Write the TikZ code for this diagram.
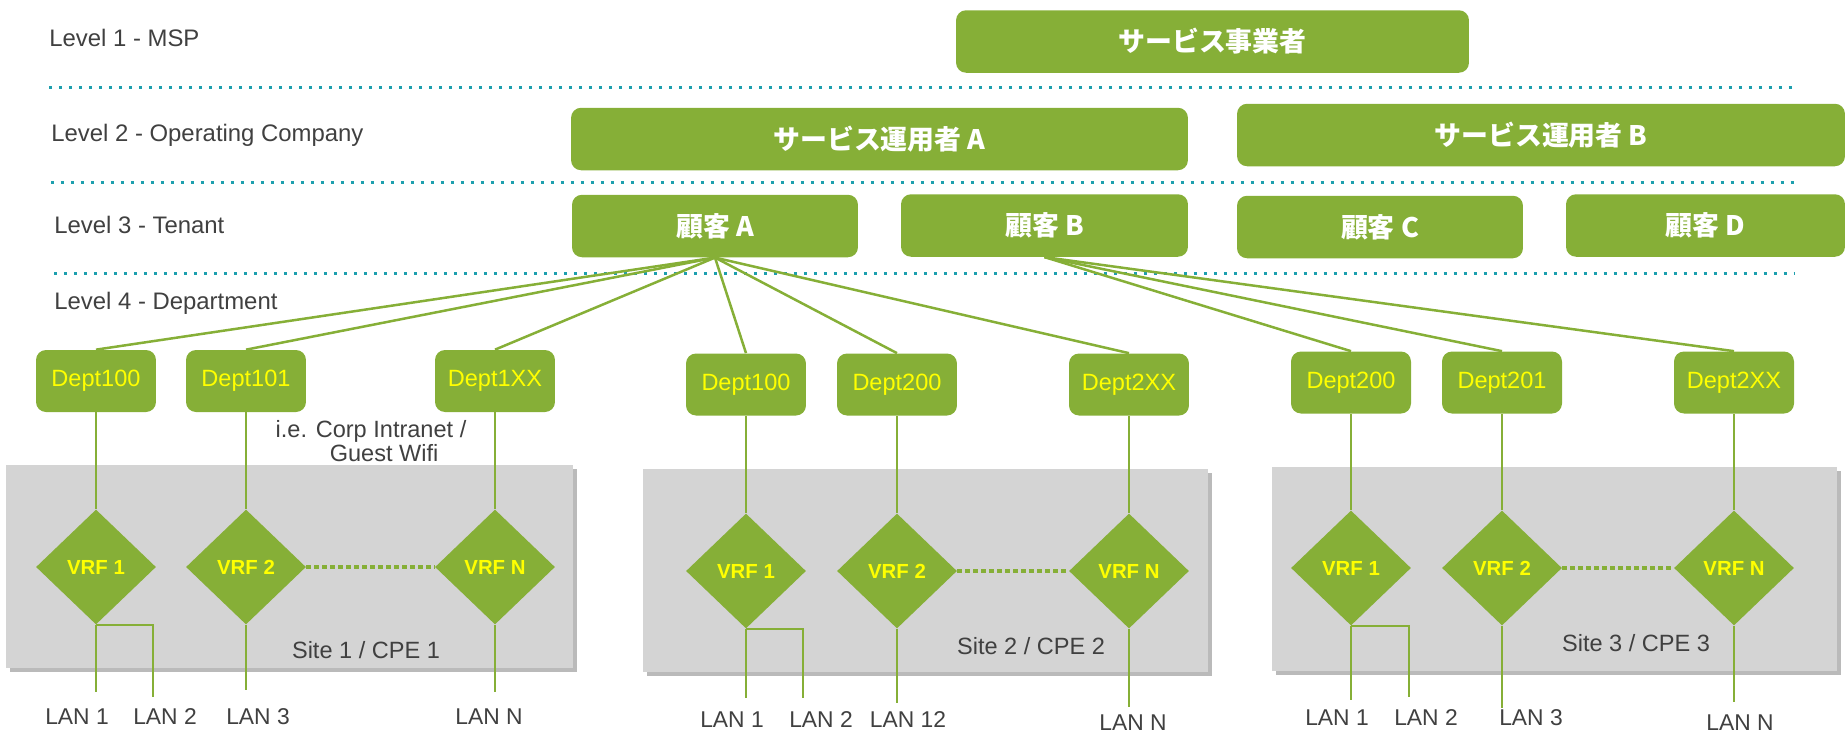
\documentclass[tikz,border=0pt]{standalone}
\usepackage{fontspec}
\setmainfont{Liberation Sans}
\newfontfamily\jpfont{Noto Sans CJK JP}
\usetikzlibrary{shapes.geometric,shadows}
\definecolor{vgreen}{HTML}{86AF37}
\definecolor{vteal}{HTML}{1D9FAE}
\definecolor{sitegray}{HTML}{D4D4D4}
\definecolor{labelgray}{HTML}{404040}
\definecolor{vyellow}{HTML}{FFFF00}
\begin{document}
\begin{tikzpicture}[x=0.02cm,y=-0.02cm,
    levelbox/.style={fill=vgreen,rounded corners=0.2cm,text=white,
      font=\jpfont\bfseries\fontsize{15.3}{18}\selectfont,minimum height=1.25cm},
    deptbox/.style={fill=vgreen,rounded corners=0.2cm,text=vyellow,
      font=\fontsize{13.4}{16}\selectfont,minimum width=2.4cm,minimum height=1.24cm},
    vrfbox/.style={diamond,fill=vgreen,text=vyellow,inner sep=0pt,
      font=\bfseries\fontsize{11.6}{14}\selectfont,minimum width=2.4cm,minimum height=2.3cm},
    sitebox/.style={fill=sitegray,drop shadow={shadow xshift=0.08cm,shadow yshift=-0.08cm,fill=black!45,opacity=0.6}},
    levellabel/.style={anchor=west,inner xsep=0pt,text=labelgray,font=\fontsize{13.6}{16}\selectfont},
    lanlabel/.style={text=labelgray,font=\fontsize{13}{16}\selectfont},
    sitelabel/.style={text=labelgray,font=\fontsize{13.4}{16}\selectfont},
    separator/.style={vteal,line width=0.06cm,dash pattern=on 0.06cm off 0.14cm},
    vrfdots/.style={vgreen,line width=0.08cm,dash pattern=on 0.09cm off 0.07cm},
    link/.style={vgreen,line width=0.05cm}]
\useasboundingbox (0,0) rectangle (1847,735);

% Level labels
\node[levellabel] (lv1) at (49,38) {Level 1 - MSP};
\node[levellabel] (lv2) at (51,135) {Level 2 - Operating Company};
\node[levellabel] (lv3) at (54,225) {Level 3 - Tenant};
\node[levellabel] (lv4) at (54,303) {Level 4 - Department};

% Level separators
\draw[separator] (49,87) -- (1793,87);
\draw[separator] (51,182) -- (1794,182);
\draw[separator] (54,273) -- (1794,273);

% Level 1
\node[levelbox,minimum width=10.26cm] (msp) at (1212.5,41.5) {サービス事業者};

% Level 2
\node[levelbox,minimum width=12.34cm] (opA) at (879.5,139) {サービス運用者 A};
\node[levelbox,minimum width=12.16cm] (opB) at (1541,135) {サービス運用者 B};

% Level 3
\node[levelbox,minimum width=5.72cm] (cA) at (715,226) {顧客 A};
\node[levelbox,minimum width=5.74cm] (cB) at (1044.5,225.5) {顧客 B};
\node[levelbox,minimum width=5.72cm] (cC) at (1380,227) {顧客 C};
\node[levelbox,minimum width=5.58cm] (cD) at (1705.5,225.5) {顧客 D};

% Site boxes
\fill[sitebox] (6,465) rectangle (573,668);
\fill[sitebox] (643,469) rectangle (1208,672);
\fill[sitebox] (1272,467) rectangle (1837,671);
\node[sitelabel] (site1) at (366,650) {Site 1 / CPE 1};
\node[sitelabel] (site2) at (1031,646) {Site 2 / CPE 2};
\node[sitelabel] (site3) at (1636,643) {Site 3 / CPE 3};

% Site 1 departments and VRFs
\node[deptbox] (s1d1) at (96,381) {Dept100};
\node[deptbox] (s1d2) at (246,381) {Dept101};
\node[deptbox] (s1d3) at (495,381) {Dept1XX};
\node[sitelabel,align=center] (note) at (371,441) {i.e. Corp Intranet /\\[-2pt]\ \ \ \ Guest Wifi};
\node[vrfbox] (s1v1) at (96,567) {VRF 1};
\node[vrfbox] (s1v2) at (246,567) {VRF 2};
\node[vrfbox] (s1v3) at (495,567) {VRF N};

% Site 2 departments and VRFs
\node[deptbox] (s2d1) at (746,384.5) {Dept100};
\node[deptbox] (s2d2) at (897,384.5) {Dept200};
\node[deptbox] (s2d3) at (1129,384.5) {Dept2XX};
\node[vrfbox] (s2v1) at (746,571) {VRF 1};
\node[vrfbox] (s2v2) at (897,571) {VRF 2};
\node[vrfbox] (s2v3) at (1129,571) {VRF N};

% Site 3 departments and VRFs
\node[deptbox] (s3d1) at (1351,382.5) {Dept200};
\node[deptbox] (s3d2) at (1502,382.5) {Dept201};
\node[deptbox] (s3d3) at (1734,382.5) {Dept2XX};
\node[vrfbox] (s3v1) at (1351,568) {VRF 1};
\node[vrfbox] (s3v2) at (1502,568) {VRF 2};
\node[vrfbox] (s3v3) at (1734,568) {VRF N};

% Tenant A to departments
\draw[link] (cA.south) -- (s1d1.north);
\draw[link] (cA.south) -- (s1d2.north);
\draw[link] (cA.south) -- (s1d3.north);
\draw[link] (cA.south) -- (s2d1.north);
\draw[link] (cA.south) -- (s2d2.north);
\draw[link] (cA.south) -- (s2d3.north);

% Tenant B to departments
\draw[link] (cB.south) -- (s3d1.north);
\draw[link] (cB.south) -- (s3d2.north);
\draw[link] (cB.south) -- (s3d3.north);

% Departments to VRFs
\draw[link] (s1d1) -- (s1v1);
\draw[link] (s1d2) -- (s1v2);
\draw[link] (s1d3) -- (s1v3);
\draw[link] (s2d1) -- (s2v1);
\draw[link] (s2d2) -- (s2v2);
\draw[link] (s2d3) -- (s2v3);
\draw[link] (s3d1) -- (s3v1);
\draw[link] (s3d2) -- (s3v2);
\draw[link] (s3d3) -- (s3v3);

% Dotted VRF gaps
\draw[vrfdots] (s1v2.east) -- (s1v3.west);
\draw[vrfdots] (s2v2.east) -- (s2v3.west);
\draw[vrfdots] (s3v2.east) -- (s3v3.west);

% Site 1 LANs
\coordinate (s1e1) at (96,692);
\coordinate (s1e2) at (153,697);
\coordinate (s1e3) at (246,690);
\coordinate (s1e4) at (495,692);
\draw[link] (s1v1.south) -- (s1e1);
\draw[link] (s1v1.south) -- (s1v1.south -| s1e2) -- (s1e2);
\draw[link] (s1v2.south) -- (s1e3);
\draw[link] (s1v3.south) -- (s1e4);
\node[lanlabel] (s1l1) at (77,717) {LAN 1};
\node[lanlabel] (s1l2) at (165,717) {LAN 2};
\node[lanlabel] (s1l3) at (258,717) {LAN 3};
\node[lanlabel] (s1l4) at (489,717) {LAN N};

% Site 2 LANs
\coordinate (s2e1) at (746,698);
\coordinate (s2e2) at (803,698);
\coordinate (s2e3) at (897,703);
\coordinate (s2e4) at (1129,707);
\draw[link] (s2v1.south) -- (s2e1);
\draw[link] (s2v1.south) -- (s2v1.south -| s2e2) -- (s2e2);
\draw[link] (s2v2.south) -- (s2e3);
\draw[link] (s2v3.south) -- (s2e4);
\node[lanlabel] (s2l1) at (732,720) {LAN 1};
\node[lanlabel] (s2l2) at (821,720) {LAN 2};
\node[lanlabel] (s2l3) at (908,720) {LAN 12};
\node[lanlabel] (s2l4) at (1133,723) {LAN N};

% Site 3 LANs
\coordinate (s3e1) at (1351,700);
\coordinate (s3e2) at (1409,697);
\coordinate (s3e3) at (1502,708);
\coordinate (s3e4) at (1734,702);
\draw[link] (s3v1.south) -- (s3e1);
\draw[link] (s3v1.south) -- (s3v1.south -| s3e2) -- (s3e2);
\draw[link] (s3v2.south) -- (s3e3);
\draw[link] (s3v3.south) -- (s3e4);
\node[lanlabel] (s3l1) at (1337,718) {LAN 1};
\node[lanlabel] (s3l2) at (1426,718) {LAN 2};
\node[lanlabel] (s3l3) at (1531,718) {LAN 3};
\node[lanlabel] (s3l4) at (1740,723) {LAN N};
\end{tikzpicture}
\end{document}
